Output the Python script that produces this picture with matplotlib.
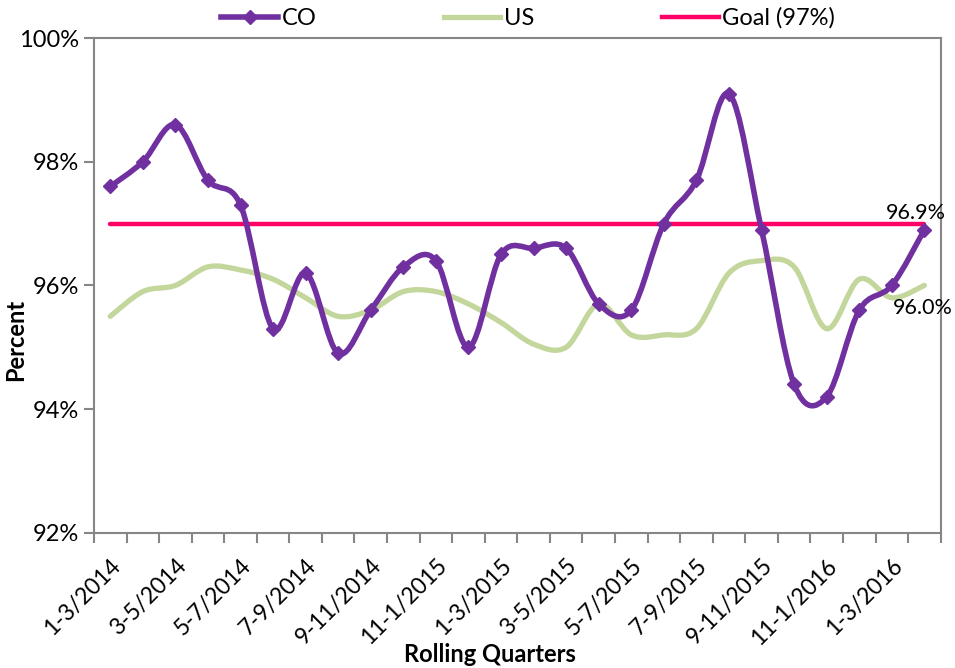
import matplotlib
matplotlib.use("Agg")
from matplotlib import pyplot as plt
from matplotlib.path import Path
from matplotlib.patches import PathPatch
from matplotlib.lines import Line2D
from matplotlib.ticker import FuncFormatter

plt.rcParams['font.family'] = ['Lato', 'DejaVu Sans']

quarters = ["1-3/2014", "2-4/2014", "3-5/2014", "4-6/2014", "5-7/2014", "6-8/2014",
            "7-9/2014", "8-10/2014", "9-11/2014", "10-12/2014", "11-1/2015", "12-2/2015",
            "1-3/2015", "2-4/2015", "3-5/2015", "4-6/2015", "5-7/2015", "6-8/2015",
            "7-9/2015", "8-10/2015", "9-11/2015", "10-12/2015", "11-1/2016", "12-2/2016",
            "1-3/2016", "2-4/2016"]
co = [97.6, 98.0, 98.6, 97.7, 97.3, 95.3, 96.2, 94.9, 95.6, 96.3, 96.4, 95.0, 96.5,
      96.6, 96.6, 95.7, 95.6, 97.0, 97.7, 99.1, 96.9, 94.4, 94.2, 95.6, 96.0, 96.9]
us = [95.5, 95.9, 96.0, 96.3, 96.25, 96.1, 95.8, 95.5, 95.6, 95.9, 95.9, 95.7, 95.4,
      95.05, 95.0, 95.7, 95.2, 95.2, 95.3, 96.2, 96.4, 96.3, 95.3, 96.1, 95.8, 96.0]
goal = 97.0

CO_COLOR = "#7030A0"
US_COLOR = "#C3D69B"
GOAL_COLOR = "#FF0066"
AXIS_GRAY = "#868686"
FS = 17


def smooth_path(xs, ys):
    # Catmull-Rom style cubic Bezier through every point (like Excel's smoothed lines)
    pts = list(zip(xs, ys))
    n = len(pts)
    verts = [pts[0]]
    codes = [Path.MOVETO]
    for i in range(n - 1):
        p0 = pts[max(i - 1, 0)]
        p1 = pts[i]
        p2 = pts[i + 1]
        p3 = pts[min(i + 2, n - 1)]
        c1 = (p1[0] + (p2[0] - p0[0]) / 6, p1[1] + (p2[1] - p0[1]) / 6)
        c2 = (p2[0] - (p3[0] - p1[0]) / 6, p2[1] - (p3[1] - p1[1]) / 6)
        verts += [c1, c2, p2]
        codes += [Path.CURVE4] * 3
    return Path(verts, codes)


fig = plt.figure(figsize=(9.55, 6.68), dpi=100)
ax = fig.add_axes([0.0984, 0.2025, 0.8866, 0.7405])

x = list(range(len(quarters)))

ax.add_patch(PathPatch(smooth_path(x, us), fill=False, edgecolor=US_COLOR,
                       lw=3.8, capstyle='round', joinstyle='round', zorder=2))
ax.plot([x[0], x[-1]], [goal, goal], color=GOAL_COLOR, lw=3.2,
        solid_capstyle='round', zorder=3)
ax.add_patch(PathPatch(smooth_path(x, co), fill=False, edgecolor=CO_COLOR,
                       lw=4.0, capstyle='round', joinstyle='round', zorder=4))
ax.plot(x, co, linestyle='none', marker='D', markersize=7, color=CO_COLOR, zorder=5)

# labels on the last points
ax.annotate(f"{co[-1]:.1f}%", (x[-1], co[-1]), xytext=(-6, 5),
            textcoords='offset points', ha='center', va='bottom', fontsize=15.5,
            zorder=6)
ax.annotate(f"{us[-1]:.1f}%", (x[-1], us[-1]), xytext=(-1, -9),
            textcoords='offset points', ha='center', va='top', fontsize=15.5,
            zorder=6, annotation_clip=False)

ax.set_xlim(-0.5, len(quarters) - 0.5)
ax.set_ylim(92, 100)
ax.set_yticks([92, 94, 96, 98, 100])
ax.yaxis.set_major_formatter(FuncFormatter(lambda v, p: f"{v:.0f}%"))

# boundary tick marks, labels on every other category
ax.set_xticks([i - 0.5 for i in range(len(quarters) + 1)])
ax.set_xticklabels([])
ax.set_xticks(x[::2], minor=True)
ax.set_xticklabels(quarters[::2], minor=True, rotation=45, ha='right',
                   rotation_mode='anchor', fontsize=16.5)
ax.tick_params(axis='x', which='major', length=7, width=1.5, color=AXIS_GRAY)
ax.tick_params(axis='x', which='minor', length=0, pad=16)
ax.tick_params(axis='y', length=7, width=1.5, color=AXIS_GRAY, labelsize=FS, pad=4)

for s in ax.spines.values():
    s.set_color(AXIS_GRAY)
    s.set_linewidth(1.5)

ax.set_ylabel("Percent", fontsize=FS, fontweight='bold')
ax.yaxis.set_label_coords(-0.079, 0.39)
fig.text(0.513, 0.02, "Rolling Quarters", fontsize=FS, fontweight='bold',
         ha='center', va='center')

handles = [
    Line2D([], [], color=CO_COLOR, lw=4.0, marker='D', markersize=7),
    Line2D([], [], color=US_COLOR, lw=3.8),
    Line2D([], [], color=GOAL_COLOR, lw=3.2),
]
fig.legend(handles, ["CO", "US", "Goal (97%)"], loc='center', ncol=3,
           bbox_to_anchor=(0.553, 0.973), frameon=False, fontsize=FS,
           handlelength=2.4, handletextpad=0.15, columnspacing=5.4)

fig.savefig("out.png", dpi=100)
